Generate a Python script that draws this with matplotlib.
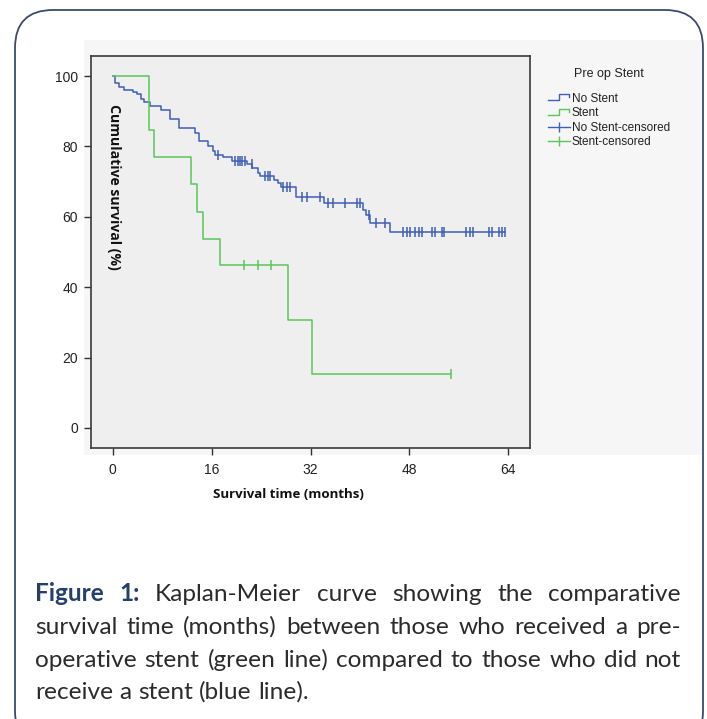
import numpy as np
import matplotlib
matplotlib.use("Agg")
import matplotlib.pyplot as plt
import matplotlib.patches as mpatches
import matplotlib.transforms as mtransforms
from matplotlib.lines import Line2D
from matplotlib.legend_handler import HandlerBase

# ---------------- data ----------------
# No Stent group: event times (months) and survival (%) after each drop
nostent_event_t = [0.4, 1.1, 1.9, 3.3, 3.9, 4.6, 5.1, 6.0, 7.8, 9.2, 10.8, 13.3, 14.0,
                   15.5, 16.2, 16.6, 17.9, 19.3, 21.7, 22.6, 23.5, 23.8, 26.1, 26.8,
                   27.2, 29.7, 34.2, 40.5, 40.9, 41.7, 44.9]
nostent_event_s = [98.1, 97.0, 96.0, 95.5, 94.9, 93.6, 92.7, 91.5, 90.3, 87.8, 85.1, 83.7,
                   81.6, 80.0, 78.8, 77.7, 76.9, 75.9, 75.0, 73.9, 72.4, 71.6, 70.5, 69.6,
                   68.5, 65.6, 63.9, 61.9, 60.5, 58.2, 55.8]
nostent_censor_t = [17.1, 19.8, 20.2, 20.6, 21.0, 21.4, 22.5, 24.6, 25.2, 25.4, 27.6, 28.2,
                    28.7, 30.7, 31.5, 33.6, 34.8, 35.6, 37.6, 39.5, 40.0, 41.4, 42.6, 44.1,
                    46.9, 47.6, 48.1, 48.9, 49.5, 50.0, 51.6, 52.1, 53.2, 53.6, 57.2, 57.8,
                    58.3, 60.9, 61.4, 62.5, 62.9, 63.5]

# Stent group
stent_event_t = [5.8, 6.7, 12.6, 13.7, 14.6, 17.4, 28.3, 32.2]
stent_event_s = [84.6, 76.9, 69.2, 61.5, 53.8, 46.2, 30.8, 15.4]
stent_censor_t = [21.3, 23.5, 25.6, 54.7]

x_ticks = [0, 16, 32, 48, 64]
y_ticks = [0, 20, 40, 60, 80, 100]
legend_labels = ["No Stent", "Stent", "No Stent-censored", "Stent-censored"]
legend_title = "Pre op Stent"
x_label = "Survival time (months)"
y_label = "Cumulative survival (%)"

BLUE = "#3f5eb8"
GREEN = "#58c858"

W, H = 707, 719
fig = plt.figure(figsize=(W / 100, H / 100), dpi=100)
fig.patch.set_facecolor("white")

# background panel and rounded border
panel = mpatches.Rectangle((84, H - 455), 618, 415, transform=mtransforms.IdentityTransform(),
                           facecolor="#f6f6f6", edgecolor="none", zorder=-3)
fig.patches.append(panel)
box = mpatches.FancyBboxPatch((15, -30), 688, H - 10 + 30,
                              boxstyle="round,pad=0,rounding_size=38",
                              transform=mtransforms.IdentityTransform(),
                              facecolor="none", edgecolor="#3b4a6e", lw=1.3, zorder=-2)
fig.patches.append(box)

ax_l, ax_r, ax_t, ax_b = 91, 530, 56, 448
ax = fig.add_axes([ax_l / W, (H - ax_b) / H, (ax_r - ax_l) / W, (ax_b - ax_t) / H])
ax.set_facecolor("#efefef")
ax.set_xlim(-3.5, 67.5)
ax.set_ylim(-5.7, 105.7)


def km_curve(ev_t, ev_s, cen_t):
    end = max(max(cen_t), max(ev_t))
    xs = np.concatenate([[0.0], ev_t, [end]])
    ys = np.concatenate([[100.0], ev_s, [ev_s[-1]]])
    # survival at censor times from the step function
    idx = np.searchsorted(np.asarray(ev_t), np.asarray(cen_t), side="right")
    surv_all = np.concatenate([[100.0], ev_s])
    cy = surv_all[idx]
    return xs, ys, np.asarray(cen_t), cy


for ev_t, ev_s, cen_t, col in [(nostent_event_t, nostent_event_s, nostent_censor_t, BLUE),
                               (stent_event_t, stent_event_s, stent_censor_t, GREEN)]:
    xs, ys, cx, cy = km_curve(ev_t, ev_s, cen_t)
    ax.step(xs, ys, where="post", color=col, lw=1.1)
    ax.plot(cx, cy, ls="none", marker="|", ms=6.5, mew=1.1, color=col)

ax.set_xticks(x_ticks)
ax.set_yticks(y_ticks)
ax.tick_params(axis="both", direction="out", length=5, width=1.0, color="#333333",
               labelsize=10, labelcolor="#222222")
ax.tick_params(axis="y", pad=4.5)
ax.tick_params(axis="x", pad=6)
for lab in ax.get_xticklabels() + ax.get_yticklabels():
    lab.set_fontfamily("Liberation Sans")
for sp in ax.spines.values():
    sp.set_color("#3a3a3a")
    sp.set_linewidth(1.2)

ax.set_xlabel(x_label, fontfamily="Open Sans", fontweight="bold", fontsize=9.5, color="#111111")
ax.xaxis.set_label_coords((288 - ax_l) / (ax_r - ax_l), (ax_b - 488) / (ax_b - ax_t))
ax.text((114 - ax_l) / (ax_r - ax_l), (ax_b - 104) / (ax_b - ax_t), y_label, rotation=270,
        ha="center", va="top", transform=ax.transAxes, fontfamily="Open Sans",
        fontweight="bold", fontsize=10.1, color="#111111")


# ---------------- legend ----------------
class StepHandler(HandlerBase):
    def create_artists(self, legend, orig_handle, xdescent, ydescent, width, height,
                       fontsize, trans):
        xs = np.array([0.0, 0.5, 0.5, 0.95, 0.95]) * width - xdescent
        ys = np.array([0.15, 0.15, 0.85, 0.85, 0.5]) * height - ydescent
        ln = Line2D(xs, ys, color=orig_handle.get_color(), lw=1.0)
        ln.set_transform(trans)
        return [ln]


h1 = Line2D([], [], color=BLUE)
h2 = Line2D([], [], color=GREEN)
h3 = Line2D([], [], color=BLUE, marker="|", ms=7, mew=1.0, lw=1.0)
h4 = Line2D([], [], color=GREEN, marker="|", ms=7, mew=1.0, lw=1.0)
leg = fig.legend([h1, h2, h3, h4], legend_labels, title=legend_title,
                 handler_map={h1: StepHandler(), h2: StepHandler()},
                 loc="upper left", bbox_to_anchor=(548 / W, 1 - 68 / H),
                 frameon=False, fontsize=8.5, title_fontsize=9.0,
                 handlelength=1.9, handletextpad=0.12, labelspacing=0.22,
                 borderpad=0, borderaxespad=0)
for t in leg.get_texts():
    t.set_fontfamily("Liberation Sans")
    t.set_color("#222222")
leg.get_title().set_fontfamily("Liberation Sans")
leg.get_title().set_color("#222222")
leg._legend_box.sep = 9

# ---------------- caption (justified) ----------------
caption_lines = [
    [("Figure", True), ("1:", True), ("Kaplan-Meier", False), ("curve", False),
     ("showing", False), ("the", False), ("comparative", False)],
    [("survival", False), ("time", False), ("(months)", False), ("between", False),
     ("those", False), ("who", False), ("received", False), ("a", False), ("pre-", False)],
    [("operative", False), ("stent", False), ("(green", False), ("line)", False),
     ("compared", False), ("to", False), ("those", False), ("who", False), ("did", False),
     ("not", False)],
    [("receive", False), ("a", False), ("stent", False), ("(blue", False), ("line).", False)],
]
cap_x0, cap_x1 = 35, 681
baselines = [601, 634, 667, 699]
renderer = fig.canvas.get_renderer()
CAP_FS = 17.6
for li, (words, by) in enumerate(zip(caption_lines, baselines)):
    arts = []
    for w, bold in words:
        t = fig.text(0, 1 - by / H, w, fontsize=CAP_FS, fontfamily="Lato",
                     fontweight="bold" if bold else "normal",
                     color="#26406e" if bold else "#2b2b2b", va="baseline", ha="left")
        arts.append(t)
    widths = [a.get_window_extent(renderer).width for a in arts]
    if li < len(caption_lines) - 1:
        gap = (cap_x1 - cap_x0 - sum(widths)) / (len(arts) - 1)
    else:
        sp = fig.text(0, 0, "a a", fontsize=CAP_FS, fontfamily="Lato")
        sp2 = fig.text(0, 0, "aa", fontsize=CAP_FS, fontfamily="Lato")
        gap = sp.get_window_extent(renderer).width - sp2.get_window_extent(renderer).width
        sp.remove(); sp2.remove()
    x = cap_x0
    for a, wd in zip(arts, widths):
        a.set_x(x / W)
        x += wd + gap

fig.savefig("out.png", dpi=100)
